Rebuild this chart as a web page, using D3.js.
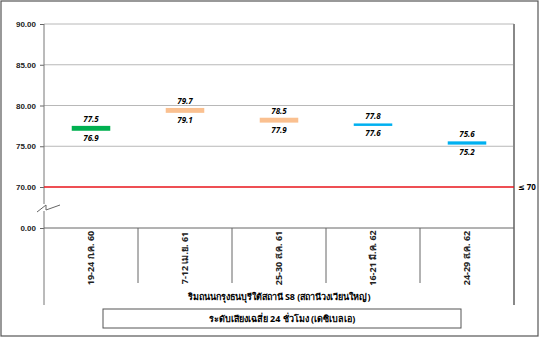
<!DOCTYPE html>
<html lang="th">
<head>
  <meta charset="UTF-8">
  <title>Noise level chart</title>
  <script src="https://cdn.jsdelivr.net/npm/d3@7"></script>
  <style>
    body { margin: 0; background: #fff; }
    svg { display: block; font-family: Tahoma, 'Noto Sans', 'DejaVu Sans', sans-serif; }
    .tick text { font-size: 8px; font-weight: bold; fill: #222; }
  </style>
</head>
<body>
  <svg width="540" height="338"></svg>
  <script>
    // data
    var categories = ['19-24 ก.ค. 60', '7-12 เม.ย. 61', '25-30 ส.ค. 61', '16-21 มี.ค. 62', '24-29 ส.ค. 62'];
    var maxValues = [77.5, 79.7, 78.5, 77.8, 75.6];
    var minValues = [76.9, 79.1, 77.9, 77.6, 75.2];
    var yTicks = [0, 70, 75, 80, 85, 90];
    var standard = 70;
    var groupLabel = 'ริมถนนกรุงธนบุรีใต้สถานี S8 (สถานีวงเวียนใหญ่)';
    var titleLabel = 'ระดับเสียงเฉลี่ย 24 ชั่วโมง (เดซิเบลเอ)';
    var barColors = ['#00b050', '#fac090', '#fac090', '#00b0f0', '#00b0f0'];

    var svg = d3.select('svg');
    var plotLeft = 44, plotRight = 514, plotTop = 24, plotBottom = 228;

    // outer frame
    svg.append('rect')
      .attr('x', 1).attr('y', 1).attr('width', 537).attr('height', 335)
      .attr('fill', 'none').attr('stroke', '#555').attr('stroke-width', 1.2);

    var x = d3.scaleBand().domain(categories).range([plotLeft, plotRight]);
    // broken axis: 0 sits one step below 70
    var y = d3.scaleLinear().domain([0, 70, 90]).range([plotBottom, 187, plotTop]);

    // gridlines
    svg.append('g').selectAll('line')
      .data(yTicks.filter(function(d) { return d > standard; }))
      .join('line')
      .attr('x1', plotLeft).attr('x2', plotRight)
      .attr('y1', function(d) { return y(d); })
      .attr('y2', function(d) { return y(d); })
      .attr('stroke', '#b8b8b8').attr('stroke-width', 1);

    // y axis ticks + labels
    var yAxis = d3.axisLeft(y).tickValues(yTicks).tickFormat(d3.format('.2f')).tickSize(4).tickPadding(4);
    var yg = svg.append('g').attr('transform', 'translate(' + plotLeft + ',0)').call(yAxis);
    yg.select('.domain').remove();
    yg.selectAll('.tick line').attr('stroke', '#666');

    // axis line with break
    svg.append('line').attr('x1', plotLeft).attr('x2', plotLeft).attr('y1', plotTop).attr('y2', 204)
      .attr('stroke', '#777');
    svg.append('line').attr('x1', plotLeft).attr('x2', plotLeft).attr('y1', 211).attr('y2', 305)
      .attr('stroke', '#777');
    svg.append('path')
      .attr('d', 'M37,212 L46,205 L46,210 L60,205')
      .attr('fill', 'none').attr('stroke', '#666').attr('stroke-width', 1);

    // right edge
    svg.append('line').attr('x1', plotRight).attr('x2', plotRight).attr('y1', plotTop).attr('y2', 305)
      .attr('stroke', '#888').attr('stroke-width', 2);

    // zero line
    svg.append('line').attr('x1', plotLeft).attr('x2', plotRight).attr('y1', y(0)).attr('y2', y(0))
      .attr('stroke', '#666');

    // category separators
    svg.append('g').selectAll('line')
      .data(categories.slice(1))
      .join('line')
      .attr('x1', function(d) { return x(d); })
      .attr('x2', function(d) { return x(d); })
      .attr('y1', y(0)).attr('y2', 283)
      .attr('stroke', '#666');

    // standard line
    svg.append('line').attr('x1', plotLeft).attr('x2', plotRight)
      .attr('y1', y(standard)).attr('y2', y(standard))
      .attr('stroke', '#e8141b').attr('stroke-width', 1.5);
    svg.append('text').attr('x', plotRight + 4).attr('y', y(standard) + 3)
      .attr('font-size', 8).attr('font-weight', 'bold').text('≤ ' + standard);

    // floating bars
    var bw = x.bandwidth() * 0.41;
    var bars = svg.append('g').selectAll('g')
      .data(categories)
      .join('g');
    bars.append('rect')
      .attr('x', function(d) { return x(d) + (x.bandwidth() - bw) / 2; })
      .attr('y', function(d, i) { return y(maxValues[i]); })
      .attr('width', bw)
      .attr('height', function(d, i) { return Math.max(2.5, y(minValues[i]) - y(maxValues[i])); })
      .attr('fill', function(d, i) { return barColors[i]; });
    bars.append('text')
      .attr('x', function(d) { return x(d) + x.bandwidth() / 2; })
      .attr('y', function(d, i) { return y(maxValues[i]) - 4; })
      .attr('text-anchor', 'middle').attr('font-size', 8)
      .attr('font-weight', 'bold').attr('font-style', 'italic')
      .text(function(d, i) { return maxValues[i].toFixed(1); });
    bars.append('text')
      .attr('x', function(d) { return x(d) + x.bandwidth() / 2; })
      .attr('y', function(d, i) { return y(minValues[i]) + Math.max(0, 2.5 - (y(minValues[i]) - y(maxValues[i]))) + 10; })
      .attr('text-anchor', 'middle').attr('font-size', 8)
      .attr('font-weight', 'bold').attr('font-style', 'italic')
      .text(function(d, i) { return minValues[i].toFixed(1); });

    // category labels (rotated)
    svg.append('g').selectAll('text')
      .data(categories)
      .join('text')
      .attr('transform', function(d) {
        return 'translate(' + (x(d) + x.bandwidth() / 2 + 3) + ',258) rotate(-90)';
      })
      .attr('text-anchor', 'middle').attr('font-size', 9).attr('font-weight', 'bold')
      .attr('fill', '#222')
      .text(function(d) { return d; });

    // group label
    svg.append('text').attr('x', 279).attr('y', 300)
      .attr('text-anchor', 'middle').attr('font-size', 9).attr('font-weight', 'bold')
      .text(groupLabel);

    // box with axis title
    svg.append('rect').attr('x', 103).attr('y', 309).attr('width', 358).attr('height', 19)
      .attr('fill', 'none').attr('stroke', '#555');
    svg.append('text').attr('x', 282).attr('y', 322)
      .attr('text-anchor', 'middle').attr('font-size', 9).attr('font-weight', 'bold')
      .text(titleLabel);
  </script>
</body>
</html>
